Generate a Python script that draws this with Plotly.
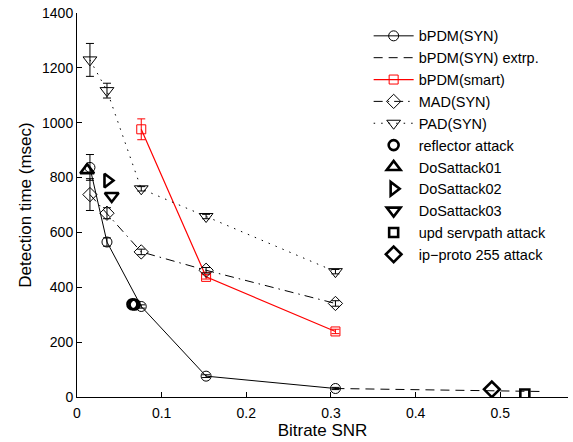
import plotly.graph_objects as go

# ---- data ----
snr = [0.0153, 0.0354, 0.0759, 0.1525, 0.3053]
bpdm_syn = [837, 565, 330, 76, 31]
bpdm_syn_err = [47, 15, 6, 5, 4]
extrp_x = [0.3053, 0.55]
extrp_y = [31, 20]
smart_x = [0.0759, 0.1525, 0.3053]
smart_y = [976, 438, 239]
smart_err = [38, 8, 8]
mad_syn = [738, 670, 529, 462, 341]
mad_err = [58, 20, 10, 10, 10]
pad_syn = [1229, 1117, 759, 658, 457]
pad_err = [60, 27, 8, 8, 8]

reflector_x = [0.0655, 0.068]
reflector_y = [338, 337]
dos01_x = [0.012]
dos01_y = [827]
dos02_x = [0.036]
dos02_y = [789]
dos03_x = [0.041]
dos03_y = [733]
upd_x = [0.529]
upd_y = [11]
ipproto_x = [0.490]
ipproto_y = [28]

x_ticks = [0, 0.1, 0.2, 0.3, 0.4, 0.5]
x_ticklabels = ["0", "0.1", "0.2", "0.3", "0.4", "0.5"]
y_ticks = [0, 200, 400, 600, 800, 1000, 1200, 1400]

FONT = "Liberation Sans, Arial, Helvetica, sans-serif"

fig = go.Figure()

def err(vals, color="black"):
    return dict(type="data", array=vals, visible=True, color=color, thickness=1, width=4)

fig.add_trace(go.Scatter(
    x=snr, y=bpdm_syn, name="bPDM(SYN)", mode="lines+markers",
    line=dict(color="black", width=1),
    marker=dict(symbol="circle-open", size=10, color="black", line=dict(width=1)),
    error_y=err(bpdm_syn_err), legendgroup="a"))
fig.add_trace(go.Scatter(
    x=extrp_x, y=extrp_y, name="bPDM(SYN) extrp.", mode="lines",
    line=dict(color="black", width=1, dash="9px,6px"), legendgroup="b"))
fig.add_trace(go.Scatter(
    x=smart_x, y=smart_y, name="bPDM(smart)", mode="lines+markers",
    line=dict(color="red", width=1.2),
    marker=dict(symbol="square-open", size=9, color="red", line=dict(width=1)),
    error_y=err(smart_err, "red"), legendgroup="c"))
fig.add_trace(go.Scatter(
    x=snr, y=mad_syn, name="MAD(SYN)", mode="lines+markers",
    line=dict(color="black", width=1, dash="9px,5px,1.5px,5px"),
    marker=dict(symbol="diamond-open", size=11, color="black", line=dict(width=1)),
    error_y=err(mad_err), legendgroup="d"))
fig.add_trace(go.Scatter(
    x=snr, y=pad_syn, name="PAD(SYN)", mode="lines+markers",
    line=dict(color="black", width=1, dash="1.5px,6px"),
    marker=dict(symbol="triangle-down-open", size=12, color="black", line=dict(width=1)),
    error_y=err(pad_err), legendgroup="e"))

bold = dict(color="black", width=2.6)
attacks = [
    (reflector_x, reflector_y, "reflector attack", "circle-open", 10),
    (dos01_x, dos01_y, "DoSattack01", "triangle-up-open", 12),
    (dos02_x, dos02_y, "DoSattack02", "triangle-right-open", 12),
    (dos03_x, dos03_y, "DoSattack03", "triangle-down-open", 12),
    (upd_x, upd_y, "upd servpath attack", "square-open", 9),
    (ipproto_x, ipproto_y, "ip\u2212proto 255 attack", "diamond-open", 12),
]
for i, (xs, ys, nm, sym, sz) in enumerate(attacks):
    fig.add_trace(go.Scatter(
        x=xs, y=ys, name=nm, mode="markers",
        marker=dict(symbol=sym, size=sz, color="black", line=bold),
        legendgroup="g%d" % i))

fig.update_layout(
    width=573, height=442,
    margin=dict(l=77, r=5, t=10, b=45),
    paper_bgcolor="white", plot_bgcolor="white",
    font=dict(family=FONT, size=14, color="black"),
    showlegend=True,
    legend=dict(x=0.594, y=0.982, xanchor="left", yanchor="top",
                bgcolor="rgba(0,0,0,0)", borderwidth=0,
                font=dict(family=FONT, size=14.5, color="black"),
                itemwidth=40, tracegroupgap=1.6, traceorder="normal"),
    xaxis=dict(range=[0, 0.58], tickvals=x_ticks, ticktext=x_ticklabels,
               ticks="inside", ticklen=5, tickcolor="black",
               showline=True, linecolor="black", linewidth=1, mirror=False,
               showgrid=False, zeroline=False, ticklabelstandoff=3,
               title=dict(text="Bitrate SNR", font=dict(size=17), standoff=3)),
    yaxis=dict(range=[0, 1400], tickvals=y_ticks,
               ticks="inside", ticklen=5, tickcolor="black",
               showline=True, linecolor="black", linewidth=1, mirror=False,
               showgrid=False, zeroline=False,
               title=dict(text="Detection time (msec)", font=dict(size=17), standoff=6)),
)

fig.write_html("out.html")
